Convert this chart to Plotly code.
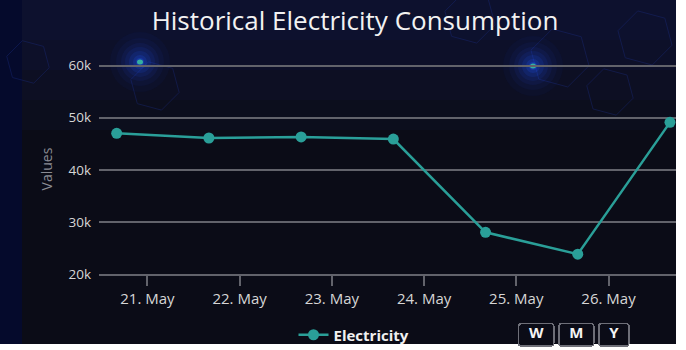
import math
import plotly.graph_objects as go

# ---- data ----
timestamps = [
    "2024-05-20 16:00", "2024-05-21 16:00", "2024-05-22 16:00",
    "2024-05-23 16:00", "2024-05-24 16:00", "2024-05-25 16:00",
    "2024-05-26 16:00",
]
consumption = [47000, 46100, 46300, 45900, 28000, 23800, 49100]
series_name = "Electricity"

x_tick_days = ["2024-05-21", "2024-05-22", "2024-05-23",
               "2024-05-24", "2024-05-25", "2024-05-26"]
y_tick_values = [20000, 30000, 40000, 50000, 60000]
y_tick_labels = ["20k", "30k", "40k", "50k", "60k"]
button_labels = ["W", "M", "Y"]

# ---- canvas geometry ----
W, H = 686, 350
Y_MIN, Y_MAX = 20000, 60300
PLOT_LEFT, PLOT_RIGHT, PLOT_BOTTOM = 99, 676, 274
PX_PER_UNIT = 52.1 / 10000
PLOT_TOP = PLOT_BOTTOM - (Y_MAX - Y_MIN) * PX_PER_UNIT
ML, MR, MT, MB = PLOT_LEFT, W - PLOT_RIGHT, PLOT_TOP, H - PLOT_BOTTOM
PW, PH = PLOT_RIGHT - PLOT_LEFT, PLOT_BOTTOM - PLOT_TOP


def px(x):
    return (x - PLOT_LEFT) / PW


def py(y):
    return (PLOT_BOTTOM - y) / PH


def hexagon(cx, cy, r, rot=15):
    pts = []
    for k in range(6):
        a = math.radians(60 * k + rot)
        pts.append((px(cx + r * math.cos(a)), py(cy + r * math.sin(a))))
    return "M " + " L ".join(f"{a:.4f},{b:.4f}" for a, b in pts) + " Z"


BG = "#0b0c17"
TEAL = "#2a9f98"
GRID = "#62636b"
FONT = "Open Sans"

shapes = []
# navy band on the left edge
shapes.append(dict(type="rect", xref="paper", yref="paper", layer="below",
                   x0=px(0), x1=px(22), y0=py(H), y1=py(0),
                   fillcolor="#050a2c", line_width=0))
# bluish haze in the upper part
for bottom, op in [(130, 0.07), (100, 0.08), (70, 0.08), (40, 0.08)]:
    shapes.append(dict(type="rect", xref="paper", yref="paper", layer="below",
                       x0=px(22), x1=px(PLOT_RIGHT), y0=py(bottom), y1=py(0),
                       fillcolor="#1b2a6e", opacity=op, line_width=0))

# faint hexagon outlines
for cx, cy, r in [(155, 86, 25), (28, 62, 22), (560, 58, 30), (645, 38, 28),
                  (610, 92, 24), (470, 18, 26)]:
    shapes.append(dict(type="path", xref="paper", yref="paper", layer="below",
                       path=hexagon(cx, cy, r), line=dict(color="#1c2f8a", width=1),
                       opacity=0.35))

# soft glowing lights
for gx, gy in [(140, 62), (533, 66)]:
    for r, op in [(30, 0.04), (24, 0.05), (19, 0.07), (15, 0.09),
                  (11, 0.12), (7, 0.17), (4, 0.25)]:
        shapes.append(dict(type="circle", layer="below",
                           xref="paper", yref="paper",
                           xsizemode="pixel", ysizemode="pixel",
                           xanchor=px(gx), yanchor=py(gy),
                           x0=-r, x1=r, y0=-r, y1=r,
                           fillcolor="#2457ff", opacity=op, line_width=0))
    shapes.append(dict(type="circle", layer="below",
                       xref="paper", yref="paper",
                       xsizemode="pixel", ysizemode="pixel",
                       xanchor=px(gx), yanchor=py(gy),
                       x0=-3, x1=3, y0=-2.5, y1=2.5,
                       fillcolor="#3fd8a0", opacity=0.75, line_width=0))

# white page edges on the right and bottom
shapes.append(dict(type="rect", xref="paper", yref="paper", layer="above",
                   x0=px(PLOT_RIGHT), x1=px(W + 5), y0=py(H + 5), y1=py(-5),
                   fillcolor="#ffffff", line_width=0))
shapes.append(dict(type="rect", xref="paper", yref="paper", layer="above",
                   x0=px(-5), x1=px(W + 5), y0=py(H + 5), y1=py(344),
                   fillcolor="#ffffff", line_width=0))

fig = go.Figure()
fig.add_trace(go.Scatter(
    x=timestamps, y=consumption, name=series_name,
    mode="lines+markers",
    line=dict(color=TEAL, width=2.5),
    marker=dict(color=TEAL, size=11),
    cliponaxis=False,
    showlegend=True,
))

pad = "\u200a\u00a0"
fig.update_layout(
    width=W, height=H,
    margin=dict(l=ML, r=MR, t=MT, b=MB, autoexpand=False),
    paper_bgcolor=BG,
    plot_bgcolor="rgba(0,0,0,0)",
    font=dict(family=FONT, color="#d6d6d6"),
    title=dict(text="Historical Electricity Consumption",
               x=355 / W, xref="container", xanchor="center",
               y=1 - 21 / H, yref="container", yanchor="middle",
               font=dict(size=26, color="#f2f2f2", family=FONT)),
    shapes=shapes,
    showlegend=True,
    legend=dict(orientation="h", x=px(354), xanchor="center",
                y=py(335), yanchor="middle",
                bgcolor="rgba(0,0,0,0)",
                font=dict(size=15, color="#f0f0f0", family=FONT, weight="bold")),
    xaxis=dict(
        type="date",
        range=["2024-05-20 11:24", "2024-05-26 17:34"],
        tickvals=x_tick_days,
        tickformat="%-d. %b",
        showgrid=False,
        showline=True, linecolor=GRID, linewidth=1.5,
        ticks="outside", ticklen=10, tickwidth=1.5, tickcolor=GRID,
        tickfont=dict(size=15, color="#d6d6d6"),
        zeroline=False,
        fixedrange=True,
        automargin=False,
        rangeselector=dict(
            buttons=[
                dict(count=7, label=pad + button_labels[0] + pad,
                     step="day", stepmode="backward"),
                dict(count=1, label=pad + button_labels[1] + pad,
                     step="month", stepmode="backward"),
                dict(count=1, label=pad + button_labels[2] + pad,
                     step="year", stepmode="backward"),
            ],
            x=px(517), xanchor="left",
            y=py(322), yanchor="top",
            bgcolor=BG, activecolor=BG,
            bordercolor="#6e6f78", borderwidth=1.5,
            font=dict(size=15, color="#f4f4f4", family=FONT, weight="bold"),
        ),
    ),
    yaxis=dict(
        range=[Y_MIN, Y_MAX],
        tickvals=y_tick_values, ticktext=y_tick_labels,
        showgrid=True, gridcolor=GRID, gridwidth=1.5,
        zeroline=False, showline=False,
        ticks="", ticklabelstandoff=7,
        tickfont=dict(size=13.5, color="#d6d6d6"),
        title=dict(text="Values", standoff=12,
                   font=dict(size=14, color="#8a8b93")),
        fixedrange=True,
        automargin=False,
    ),
)

fig.write_html("out.html")
